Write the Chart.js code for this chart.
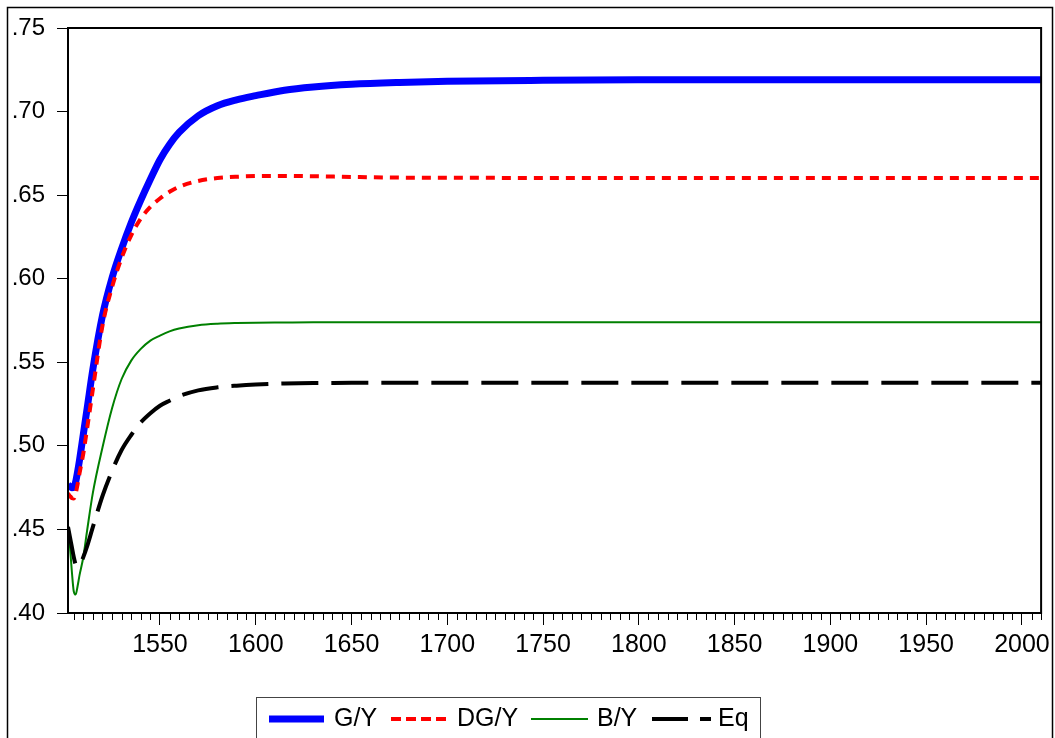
<!DOCTYPE html>
<html>
<head>
<meta charset="utf-8">
<script src="https://cdn.jsdelivr.net/npm/chart.js@4.4.1/dist/chart.umd.min.js"></script>
<style>
  html, body { margin: 0; padding: 0; background: #fff; }
  #wrap { width: 1055px; height: 738px; }
</style>
</head>
<body>
<div id="wrap"><canvas id="grafico" width="1055" height="738"></canvas></div>
<script>
// Datos (años y razones)
const years = [1502, 1503, 1504, 1505, 1506, 1507, 1508, 1510, 1512, 1515, 1520, 1525, 1530, 1535, 1540, 1545,
               1550, 1555, 1560, 1570, 1580, 1590, 1600, 1615, 1630, 1650, 1675, 1700, 1750, 1800, 1900, 2010];
const gY  = [0.4766, 0.4757, 0.4750, 0.4752, 0.4785, 0.4845, 0.4914, 0.5070, 0.5225, 0.5460, 0.5780, 0.6005,
             0.6180, 0.6335, 0.6470, 0.6595, 0.6712, 0.6803, 0.6875, 0.6975, 0.7035, 0.7070, 0.7095, 0.7128,
             0.7147, 0.7163, 0.7174, 0.7181, 0.7187, 0.7190, 0.7190, 0.7190];
const dgY = [0.4715, 0.4700, 0.4688, 0.4685, 0.4715, 0.4770, 0.4835, 0.4955, 0.5105, 0.5340, 0.5720, 0.5950,
             0.6125, 0.6260, 0.6360, 0.6430, 0.6480, 0.6520, 0.6550, 0.6585, 0.6602, 0.6610, 0.6614, 0.6615,
             0.6613, 0.6609, 0.6605, 0.6604, 0.6603, 0.6603, 0.6603, 0.6603];
const bY  = [0.4520, 0.4400, 0.4250, 0.4130, 0.4110, 0.4160, 0.4225, 0.4335, 0.4495, 0.4720, 0.4990, 0.5225,
             0.5400, 0.5510, 0.5580, 0.5630, 0.5660, 0.5685, 0.5702, 0.5722, 0.5731, 0.5735, 0.5737, 0.5738,
             0.5739, 0.5740, 0.5740, 0.5740, 0.5740, 0.5740, 0.5740, 0.5740];
const eq  = [0.4515, 0.4455, 0.4395, 0.4335, 0.4290, 0.4280, 0.4287, 0.4335, 0.4400, 0.4515, 0.4700, 0.4850,
             0.4975, 0.5065, 0.5140, 0.5195, 0.5240, 0.5270, 0.5297, 0.5332, 0.5350, 0.5360, 0.5367, 0.5373,
             0.5376, 0.5377, 0.5378, 0.5378, 0.5378, 0.5378, 0.5378, 0.5378];
const seriesNames = ['G/Y', 'DG/Y', 'B/Y', 'Eq'];
const xTicks = [1550, 1600, 1650, 1700, 1750, 1800, 1850, 1900, 1950, 2000];
const yTicks = [0.40, 0.45, 0.50, 0.55, 0.60, 0.65, 0.70, 0.75];

const FONT = 'Liberation Sans, Arial, sans-serif';

function puntos(vals) {
    return years.map((y, i) => ({ x: y, y: vals[i] }));
}

// Marco exterior, borde del área, ticks menores y leyenda
const marcoPlugin = {
    id: 'marco',
    afterDraw(chart) {
        const ctx = chart.ctx;
        const a = chart.chartArea;
        const xs = chart.scales.x;
        ctx.save();
        // marco exterior
        ctx.strokeStyle = '#000';
        ctx.lineWidth = 1.5;
        ctx.strokeRect(7.5, 7.5, 1045, 800);
        // borde del área de trazado
        ctx.lineWidth = 2;
        ctx.strokeRect(a.left, a.top, a.right - a.left, a.bottom - a.top);
        // ticks menores cada 5 años
        ctx.lineWidth = 1;
        ctx.beginPath();
        for (let yr = 1505; yr <= 2010; yr += 5) {
            if (yr % 50 === 0) continue;
            const px = Math.round(xs.getPixelForValue(yr)) + 0.5;
            ctx.moveTo(px, a.bottom);
            ctx.lineTo(px, a.bottom + 7);
        }
        ctx.stroke();

        // leyenda
        ctx.lineWidth = 1;
        ctx.strokeStyle = '#444';
        ctx.strokeRect(256.5, 697.5, 504, 60);
        const items = [
            { x0: 269, x1: 324, tx: 334 },
            { x0: 391, x1: 447, tx: 457 },
            { x0: 531, x1: 588, tx: 597 },
            { x0: 652, x1: 711, tx: 718 }
        ];
        ctx.font = '25px ' + FONT;
        ctx.fillStyle = '#000';
        ctx.textBaseline = 'middle';
        chart.data.datasets.forEach((ds, i) => {
            const it = items[i];
            ctx.beginPath();
            ctx.strokeStyle = ds.borderColor;
            ctx.lineWidth = ds.borderWidth;
            ctx.setLineDash(ds.legendDash || []);
            ctx.moveTo(it.x0, 719);
            ctx.lineTo(it.x1, 719);
            ctx.stroke();
            ctx.setLineDash([]);
            ctx.fillText(ds.label, it.tx, 719);
        });
        ctx.restore();
    }
};

document.addEventListener('DOMContentLoaded', function() {
    const ctx = document.getElementById('grafico').getContext('2d');
    new Chart(ctx, {
        type: 'line',
        data: {
            datasets: [
                {
                    label: seriesNames[0], data: puntos(gY), borderColor: '#0000ff',
                    borderWidth: 7, order: 4
                },
                {
                    label: seriesNames[1], data: puntos(dgY), borderColor: '#ff0000',
                    borderWidth: 4, borderDash: [9, 7], legendDash: [10, 5], order: 3
                },
                {
                    label: seriesNames[2], data: puntos(bY), borderColor: '#008000',
                    borderWidth: 2, order: 2
                },
                {
                    label: seriesNames[3], data: puntos(eq), borderColor: '#000000',
                    borderWidth: 4, borderDash: [37, 13], legendDash: [36, 12], order: 1
                }
            ]
        },
        options: {
            responsive: false,
            maintainAspectRatio: false,
            animation: false,
            devicePixelRatio: 1,
            layout: { padding: { left: 10, top: 28, right: 12, bottom: 0 } },
            elements: {
                point: { radius: 0 },
                line: { cubicInterpolationMode: 'monotone', borderCapStyle: 'butt', fill: false }
            },
            plugins: {
                legend: { display: false },
                tooltip: { enabled: false }
            },
            scales: {
                x: {
                    type: 'linear',
                    min: 1502,
                    max: 2010,
                    afterFit: (s) => { s.height = 125; },
                    afterBuildTicks: (s) => { s.ticks = xTicks.map(v => ({ value: v })); },
                    ticks: {
                        autoSkip: false,
                        maxRotation: 0,
                        padding: 5,
                        color: '#000',
                        font: { family: FONT, size: 25 },
                        callback: (v) => String(v)
                    },
                    grid: { drawOnChartArea: false, tickLength: 12, color: '#000', tickColor: '#000' },
                    border: { display: false }
                },
                y: {
                    min: 0.40,
                    max: 0.75,
                    afterFit: (s) => { s.width = 58; },
                    afterBuildTicks: (s) => { s.ticks = yTicks.map(v => ({ value: v })); },
                    ticks: {
                        padding: 12,
                        color: '#000',
                        font: { family: FONT, size: 24 },
                        callback: (v) => Number(v).toFixed(2).replace(/^0/, '')
                    },
                    grid: { drawOnChartArea: false, tickLength: 11, color: '#000', tickColor: '#000' },
                    border: { display: false }
                }
            }
        },
        plugins: [marcoPlugin]
    });
});
</script>
</body>
</html>
